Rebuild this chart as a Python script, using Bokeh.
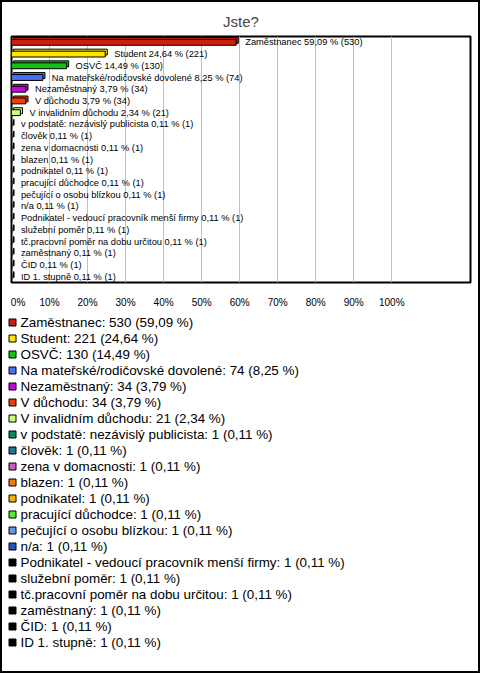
from bokeh.plotting import figure
from bokeh.layouts import column
from bokeh.models import (Range1d, FixedTicker, PrintfTickFormatter,
                          ColumnDataSource)
from bokeh.core.properties import value
from bokeh.embed import file_html
from bokeh.resources import INLINE

categories = [
    "Zaměstnanec", "Student", "OSVČ", "Na mateřské/rodičovské dovolené",
    "Nezaměstnaný", "V důchodu", "V invalidním důchodu",
    "v podstatě: nezávislý publicista", "člověk", "zena v domacnosti",
    "blazen", "podnikatel", "pracující důchodce", "pečující o osobu blízkou",
    "n/a", "Podnikatel - vedoucí pracovník menší firmy", "služební poměr",
    "tč.pracovní poměr na dobu určitou", "zaměstnaný", "ČID", "ID 1. stupně",
]
counts = [530, 221, 130, 74, 34, 34, 21, 1, 1, 1, 1, 1, 1, 1, 1, 1, 1, 1, 1, 1, 1]
percents = [59.09, 24.64, 14.49, 8.25, 3.79, 3.79, 2.34, 0.11, 0.11, 0.11, 0.11,
            0.11, 0.11, 0.11, 0.11, 0.11, 0.11, 0.11, 0.11, 0.11, 0.11]
colors = ["#c8200e", "#ffe600", "#14c014", "#4a6ff0", "#c00cd8", "#e8400c",
          "#ccff80", "#0e8a5e", "#1f7a8c", "#c060c0", "#f07d00", "#f0b400",
          "#50f030", "#6a94e0", "#2a50c0", "#000000", "#000000", "#000000",
          "#000000", "#000000", "#000000"]
tick_values = [0, 10, 20, 30, 40, 50, 60, 70, 80, 90, 100]


def fmt(v):
    return f"{v:.2f}".replace(".", ",")


bar_labels = [f"{c} {fmt(p)} % ({n})" for c, p, n in zip(categories, percents, counts)]
legend_labels = [f"{c}: {n} ({fmt(p)} %)" for c, p, n in zip(categories, percents, counts)]

DX = 0.55   # 3D depth in x (percent units)
DY = 0.17   # 3D depth in y (row units)
idx = list(range(len(categories)))
src = ColumnDataSource(dict(
    idx=idx,
    pct=percents,
    color=colors,
    blabel=bar_labels,
    llabel=legend_labels,
    yb=[i - DY for i in idx],
    rb=[p + DX for p in percents],
))

W = 476
H1 = 308
H2 = 361

# ---------- chart ----------
p = figure(width=W, height=H1, output_backend="svg", toolbar_location=None,
           x_range=Range1d(0, 120.7), y_range=Range1d(len(categories) - 0.5, -0.5),
           y_axis_location=None, min_border_left=9, min_border_right=8,
           min_border_top=34, min_border_bottom=23, title="Jste?")
p.frame_align = False

p.title.align = "center"
p.title.text_font = "Liberation Sans"
p.title.text_font_size = "15px"
p.title.text_font_style = "normal"
p.title.standoff = 14

p.outline_line_color = "black"
p.outline_line_width = 2
p.outline_line_alpha = 1

p.ygrid.visible = False
p.xgrid.ticker = FixedTicker(ticks=tick_values[1:])
p.xgrid.grid_line_color = "#c0c0c0"
p.xgrid.grid_line_width = 1

p.xaxis.ticker = FixedTicker(ticks=tick_values)
p.xaxis.formatter = PrintfTickFormatter(format="%d%%")
p.xaxis.major_label_overrides = {0: "\u00a0\u00a0\u00a00%"}
p.xaxis.axis_line_color = None
p.xaxis.major_tick_line_color = None
p.xaxis.minor_tick_line_color = None
p.xaxis.major_label_standoff = 8
p.xaxis.major_label_text_font = "Liberation Sans"
p.xaxis.major_label_text_font_size = "10px"
p.xaxis.major_label_text_color = "black"

p.hbar(y="yb", left=DX, right="rb", height=0.5, fill_color="color",
       line_color="black", line_width=1, source=src)
p.hbar(y="idx", left=0, right="pct", height=0.5, fill_color="color",
       line_color="black", line_width=1, source=src)
p.text(x="pct", y="idx", text="blabel", x_offset=9, text_baseline="middle",
       text_align="left", text_font=value("Liberation Sans"),
       text_font_size="9.3px", text_color="black", source=src)

# ---------- legend (separate panel) ----------
ROW_PX = 16
FIRST_ROW_PX = 12
top = -FIRST_ROW_PX / ROW_PX
q = figure(width=W, height=H2, output_backend="svg", toolbar_location=None,
           x_range=Range1d(0, W), y_range=Range1d(top + H2 / ROW_PX, top),
           x_axis_location=None, y_axis_location=None,
           min_border=0, min_border_left=0, min_border_right=0,
           min_border_top=0, min_border_bottom=0)
q.frame_align = False
q.outline_line_color = None
q.xgrid.visible = False
q.ygrid.visible = False

LEG_SQ_X = 10
LEG_TXT_X = 18
q.scatter(x=LEG_SQ_X, y="idx", marker="square", size=7, fill_color="color",
          line_color="black", line_width=1, source=src)
q.text(x=LEG_TXT_X, y="idx", text="llabel", text_baseline="middle",
       text_align="left", text_font=value("Liberation Sans"),
       text_font_size="13.4px", text_color="black", source=src)

layout = column(p, q, spacing=0)
layout.styles = {"border": "2px solid black"}

open("out.html", "w").write(file_html(layout, INLINE))
